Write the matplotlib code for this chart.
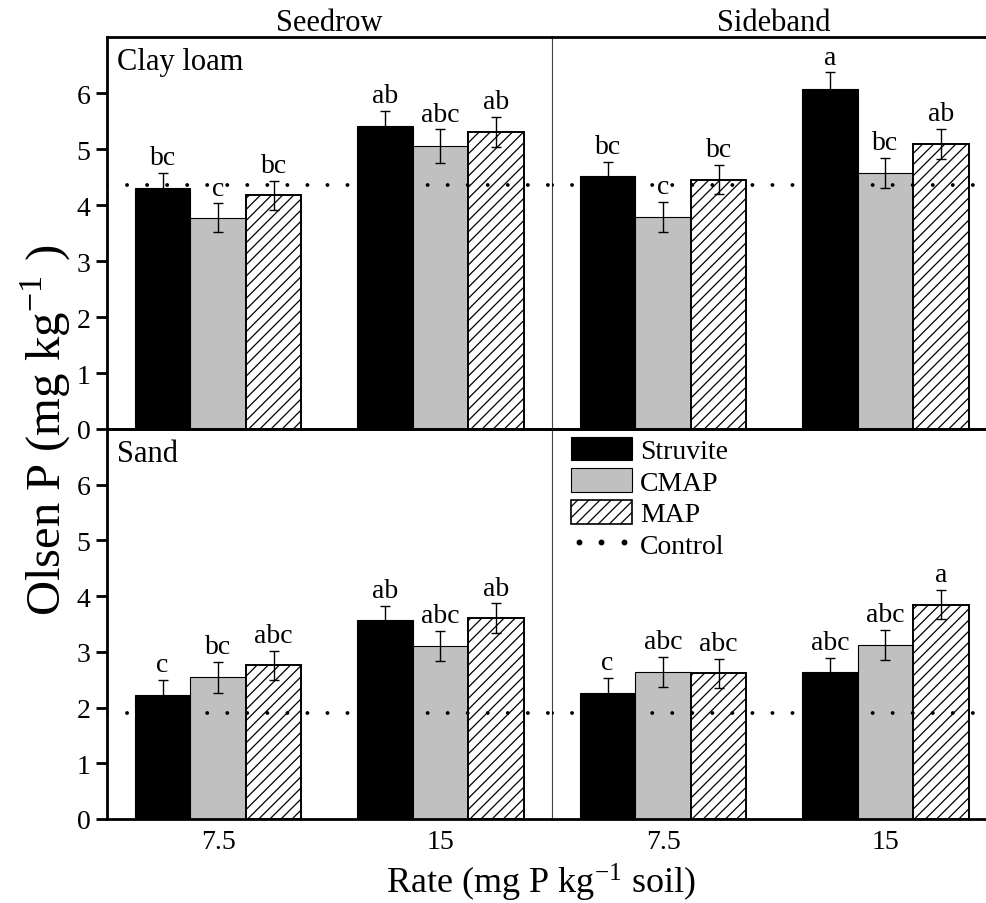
import matplotlib
matplotlib.use('agg')
import matplotlib.pyplot as plt
from matplotlib.lines import Line2D
from matplotlib.patches import Patch
import numpy as np

plt.rcParams['font.family'] = ['Liberation Serif', 'DejaVu Serif']
plt.rcParams['mathtext.fontset'] = 'stix'
plt.rcParams['hatch.linewidth'] = 0.9

rates = ['7.5', '15']
fertilizers = ['Struvite', 'CMAP', 'MAP']
placements = ['Seedrow', 'Sideband']
soils = ['Clay loam', 'Sand']

# rows = rate (7.5, 15), cols = fertilizer (Struvite, CMAP, MAP)
clay_seedrow = [[4.31, 3.77, 4.17], [5.41, 5.05, 5.30]]
clay_seedrow_se = [[0.26, 0.26, 0.26], [0.27, 0.30, 0.27]]
clay_seedrow_letters = [['bc', 'c', 'bc'], ['ab', 'abc', 'ab']]

clay_sideband = [[4.52, 3.79, 4.45], [6.07, 4.57, 5.09]]
clay_sideband_se = [[0.25, 0.27, 0.26], [0.30, 0.27, 0.27]]
clay_sideband_letters = [['bc', 'c', 'bc'], ['a', 'bc', 'ab']]

sand_seedrow = [[2.23, 2.54, 2.76], [3.57, 3.10, 3.60]]
sand_seedrow_se = [[0.26, 0.28, 0.26], [0.26, 0.27, 0.27]]
sand_seedrow_letters = [['c', 'bc', 'abc'], ['ab', 'abc', 'ab']]

sand_sideband = [[2.26, 2.64, 2.62], [2.63, 3.13, 3.85]]
sand_sideband_se = [[0.27, 0.27, 0.26], [0.26, 0.27, 0.26]]
sand_sideband_letters = [['c', 'abc', 'abc'], ['abc', 'abc', 'a']]

clay_control = 4.35
sand_control = 1.90

panels = [
    [(clay_seedrow, clay_seedrow_se, clay_seedrow_letters, clay_control),
     (clay_sideband, clay_sideband_se, clay_sideband_letters, clay_control)],
    [(sand_seedrow, sand_seedrow_se, sand_seedrow_letters, sand_control),
     (sand_sideband, sand_sideband_se, sand_sideband_letters, sand_control)],
]

colors = ['black', '#c0c0c0', 'white']
hatches = [None, None, '///']
bar_w = 0.25
offsets = [-bar_w, 0, bar_w]
dot_lw = 2.8
dot_style = (0, (0.01, 14.4 / dot_lw))

fig = plt.figure(figsize=(9.87, 9.04), dpi=100)
W, H = 987.0, 904.0
lefts = [107 / W, 552 / W]
width = 444.5 / W
bottoms = [(H - 430) / H, (H - 820) / H]
heights = [392 / H, 390 / H]

axes = [[None, None], [None, None]]
for r in range(2):
    for c in range(2):
        ax = fig.add_axes([lefts[c], bottoms[r], width, heights[r]])
        axes[r][c] = ax
        means, ses, letters, control = panels[r][c]
        x = np.arange(len(rates)) + 0.5
        for j in range(len(fertilizers)):
            vals = [means[i][j] for i in range(len(rates))]
            errs = [ses[i][j] for i in range(len(rates))]
            ax.bar(x + offsets[j], vals, width=bar_w, color=colors[j],
                   edgecolor='black', linewidth=1.4 if j == 2 else 0.8,
                   hatch=hatches[j], zorder=2)
            ax.errorbar(x + offsets[j], vals, yerr=errs, fmt='none',
                        ecolor='black', elinewidth=1, capsize=3.5,
                        capthick=1, zorder=3)
            for i in range(len(rates)):
                ax.annotate(letters[i][j], (x[i] + offsets[j], vals[i] + errs[i]),
                            xytext=(0, 2), textcoords='offset points',
                            ha='center', va='bottom', fontsize=20)
        ax.axhline(control, color='black', lw=dot_lw, linestyle=dot_style,
                   dash_capstyle='round', zorder=4)
        ax.set_xlim(0, 2)
        ax.set_ylim(0, 7)
        ax.set_xticks(x)
        if r == 1:
            ax.set_xticklabels(rates, fontsize=20)
            ax.tick_params(axis='x', length=0, pad=7)
        else:
            ax.set_xticklabels([])
            ax.tick_params(axis='x', length=0)
        if c == 0:
            ax.set_yticks(range(0, 7))
            ax.tick_params(axis='y', direction='out', length=8, width=2,
                           labelsize=20, pad=4)
            ax.spines['right'].set_visible(False)
            ax.spines['left'].set_linewidth(2)
        else:
            ax.set_yticks([])
            ax.spines['right'].set_visible(False)
            ax.spines['left'].set_linewidth(0.8)
            ax.spines['left'].set_color('#444444')
        ax.spines['top'].set_linewidth(2)
        ax.spines['bottom'].set_linewidth(2)
        ax.patch.set_alpha(0)
        if c == 0:
            ax.text(0.022, 0.975, soils[r], transform=ax.transAxes,
                    ha='left', va='top', fontsize=22)
        if r == 0:
            ax.set_title(placements[c], fontsize=22, pad=3)

handles = [Patch(facecolor='black', edgecolor='black', lw=0.8),
           Patch(facecolor='#c0c0c0', edgecolor='black', lw=0.8),
           Patch(facecolor='white', edgecolor='black', lw=1.2, hatch='///'),
           Line2D([0], [0], color='black', linestyle='none', marker='o',
                  markersize=3.2)]
axes[1][1].legend(handles, fertilizers + ['Control'], loc='upper left',
                  bbox_to_anchor=(0.03, 0.995), frameon=False, fontsize=20,
                  handlelength=2.2, handleheight=0.95, labelspacing=0.15,
                  handletextpad=0.3, borderpad=0.2, borderaxespad=0,
                  numpoints=3)

fig.text(0.046, (H - 430) / H, r'Olsen P (mg kg$^{\mathregular{-1}}$ )',
         rotation=90, ha='center', va='center', fontsize=35)
fig.text(541 / W, (H - 882) / H, r'Rate (mg P kg$^{\mathregular{-1}}$ soil)',
         ha='center', va='center', fontsize=26)

plt.savefig('out.png', dpi=100)
plt.close()
